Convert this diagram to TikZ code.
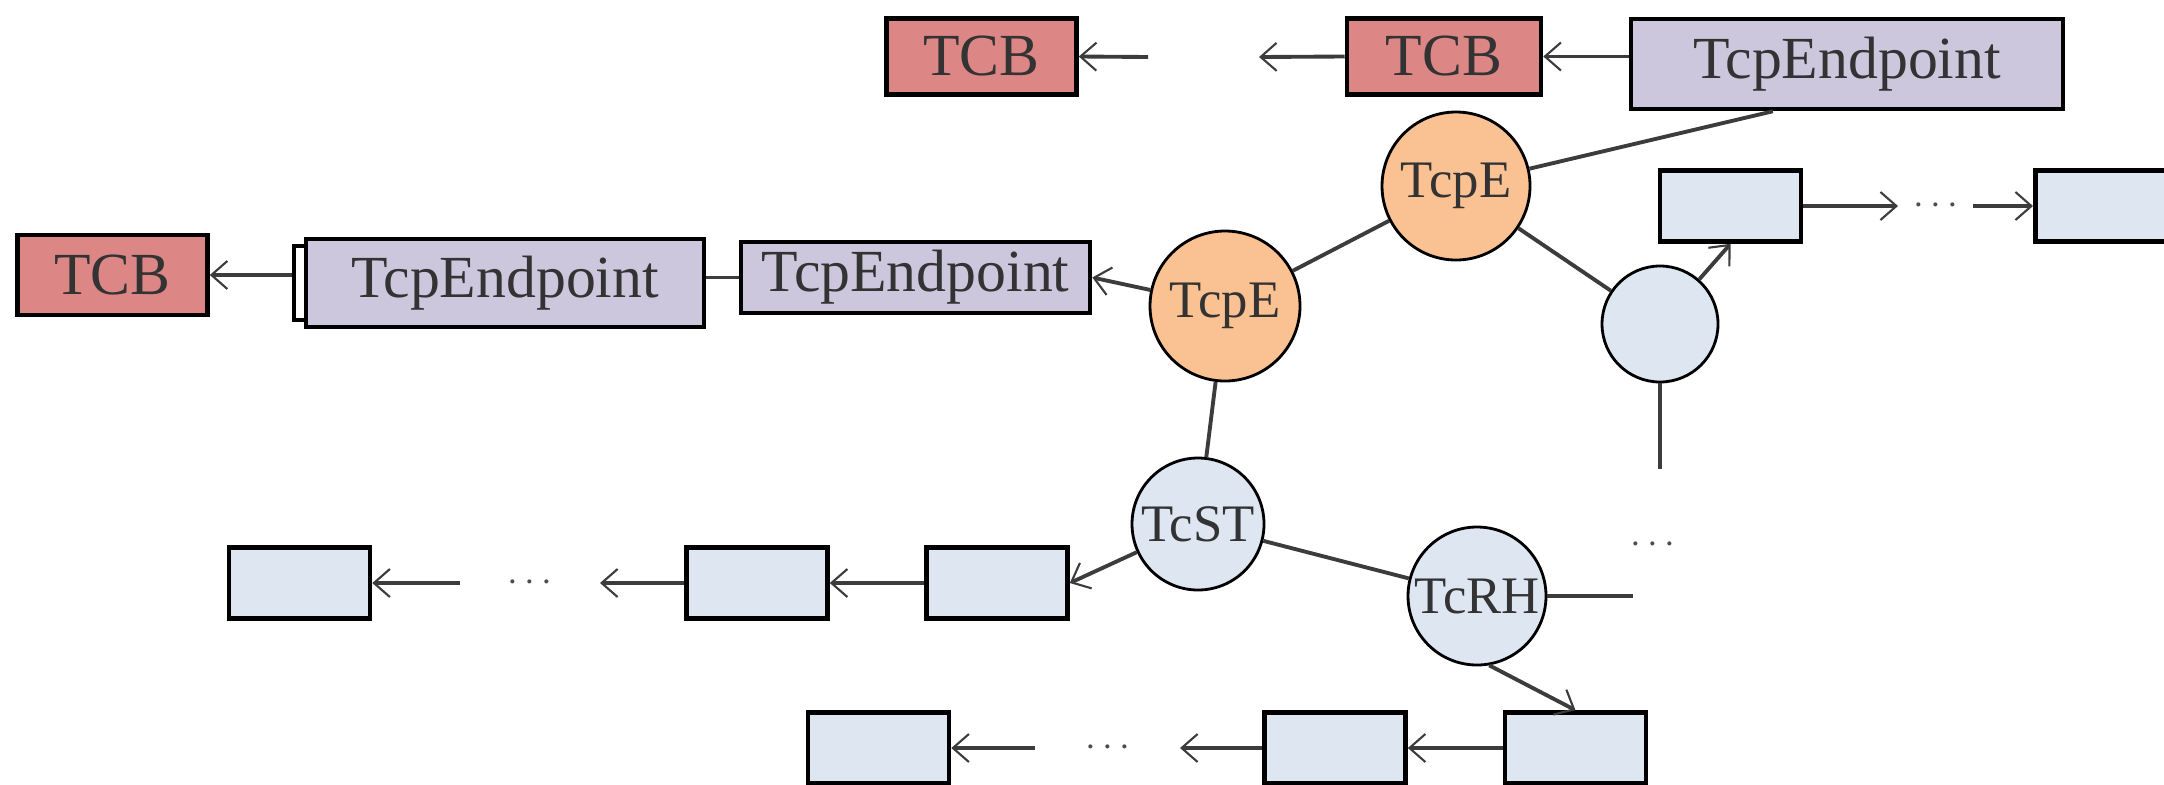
\documentclass[tikz,border=0pt]{standalone}
\usepackage{fontspec}
\setmainfont{Liberation Serif}
\usetikzlibrary{arrows.meta, calc, positioning}
\definecolor{tcbred}{RGB}{220,134,134}
\definecolor{eppurple}{RGB}{205,199,222}
\definecolor{tcpeorange}{RGB}{250,193,146}
\definecolor{listblue}{RGB}{222,230,242}
\definecolor{linegrey}{RGB}{60,60,60}

\begin{document}
\begin{tikzpicture}[
		x=0.1mm, y=-0.1mm,
		texts/.style = {text=black!80, font=\fontsize{17}{19}\selectfont},
		circtexts/.style = {text=black!80, font=\fontsize{15}{17}\selectfont},
		link/.style = {draw=linegrey, line width=1.1pt},
		arr/.style = {link, -{Straight Barb[length=1.6mm, width=2.8mm, line width=0.6pt]}},
		box/.style = {texts, rectangle, draw=black, line width=1.3pt, inner sep=0pt},
		tcb/.style = {box, fill=tcbred, minimum width=19mm, minimum height=7.6mm},
		endpoint/.style = {box, fill=eppurple},
		entry/.style = {box, fill=listblue, minimum width=14.1mm, minimum height=7.1mm},
		ring/.style = {circtexts, circle, draw=black, line width=0.8pt, inner sep=0pt},
		tcpe/.style = {ring, fill=tcpeorange, minimum size=14.8mm},
		hashnode/.style = {ring, fill=listblue},
		dots/.style = {text=black!70, font=\fontsize{11}{12}\selectfont, inner sep=0pt}
	]
	\clip (0,0) rectangle (2164,784);

	% top row
	\node[tcb] (tcbtop) at (981.5,56.5) {TCB};
	\node[tcb, minimum width=19.4mm] (tcbmid) at (1444,56.5) {TCB};
	\node[endpoint, minimum width=43.2mm, minimum height=9mm] (eptop) at (1847,64) {TcpEndpoint};

	% left row
	\node[tcb, minimum height=8mm] (tcbleft) at (112.5,275) {TCB};
	\node[box, fill=white, line width=1pt, minimum width=1.6mm, minimum height=7.4mm] (epstub) at (302,283) {};
	\node[endpoint, minimum width=39.8mm, minimum height=8.8mm] (epleft) at (505,283) {TcpEndpoint};
	\node[endpoint, minimum width=34.9mm, minimum height=7.1mm] (epmid) at (915.5,277.5) {TcpEndpoint};

	% tree
	\node[tcpe] (tcpetop) at (1456,186) {TcpE};
	\node[tcpe, minimum size=15mm] (tcpeleft) at (1225,306) {TcpE};
	\node[hashnode, minimum size=11.6mm] (bucket) at (1660,324) {};
	\node[hashnode, minimum size=13.2mm] (tcst) at (1198,524) {TcST};
	\node[hashnode, minimum size=13.8mm] (tcrh) at (1477,596) {TcRH};

	% lists
	\node[entry] (ackone) at (1730.5,206) {};
	\node[entry, minimum width=15mm, anchor=west] (ackn) at (2033,206) {};
	\node[entry] (sendone) at (997,583) {};
	\node[entry] (sendtwo) at (757,583) {};
	\node[entry] (sendn) at (299.5,583) {};
	\node[entry] (recvone) at (1575.5,748) {};
	\node[entry] (recvtwo) at (1335,748) {};
	\node[entry] (recvn) at (878.5,748) {};

	\coordinate (tcbgapA) at (1148,57);
	\coordinate (tcbgapB) at (1259,57);
	\coordinate (ackgapA) at (1898,206);
	\coordinate (ackgapB) at (1973,206);
	\coordinate (bucketend) at (1660,469);
	\coordinate (tcrhend) at (1633,596);
	\coordinate (sendgapA) at (600,583);
	\coordinate (sendgapB) at (460,583);
	\coordinate (recvgapA) at (1180,748);
	\coordinate (recvgapB) at (1035,748);

	\draw[arr] (tcbgapA) -- (tcbtop.east);
	\draw[arr] (tcbmid.west) -- (tcbgapB);
	\draw[arr] (eptop.west |- tcbmid.east) -- (tcbmid.east);
	\draw[link] ($(eptop.south west)!0.33!(eptop.south east)$) -- (tcpetop);

	\draw[arr] (epstub.west |- tcbleft.east) -- (tcbleft.east);
	\draw[link] (epleft.east |- epmid.west) -- (epmid.west);
	\draw[arr] (tcpeleft) -- (epmid.east);

	\draw[link] (tcpeleft) -- (tcpetop);
	\draw[link] (tcpetop) -- (bucket);
	\draw[link] (tcpeleft) -- (tcst);
	\draw[link] (tcst) -- (tcrh);

	\draw[arr] (bucket) -- (ackone.south);
	\draw[arr] (ackone.east) -- (ackgapA);
	\draw[arr] (ackgapB) -- (ackn.west);
	\node[dots] (ackdots) at ($(ackgapA)!0.5!(ackgapB)$) {$\cdots$};
	\draw[link] (bucket.south) -- (bucketend);
	\node[dots] (bucketdots) at (1653,545) {$\cdots$};
	\draw[link] (tcrh.east) -- (tcrhend);

	\draw[arr] (tcst) -- (sendone.east);
	\draw[arr] (sendone.west) -- (sendtwo.east);
	\draw[arr] (sendtwo.west) -- (sendgapA);
	\draw[arr] (sendgapB) -- (sendn.east);
	\node[dots] (senddots) at ($(sendgapA)!0.5!(sendgapB)$) {$\cdots$};

	\draw[arr] (tcrh.-80) -- (recvone.north);
	\draw[arr] (recvone.west) -- (recvtwo.east);
	\draw[arr] (recvtwo.west) -- (recvgapA);
	\draw[arr] (recvgapB) -- (recvn.east);
	\node[dots] (recvdots) at ($(recvgapA)!0.5!(recvgapB)$) {$\cdots$};
\end{tikzpicture}
\end{document}
